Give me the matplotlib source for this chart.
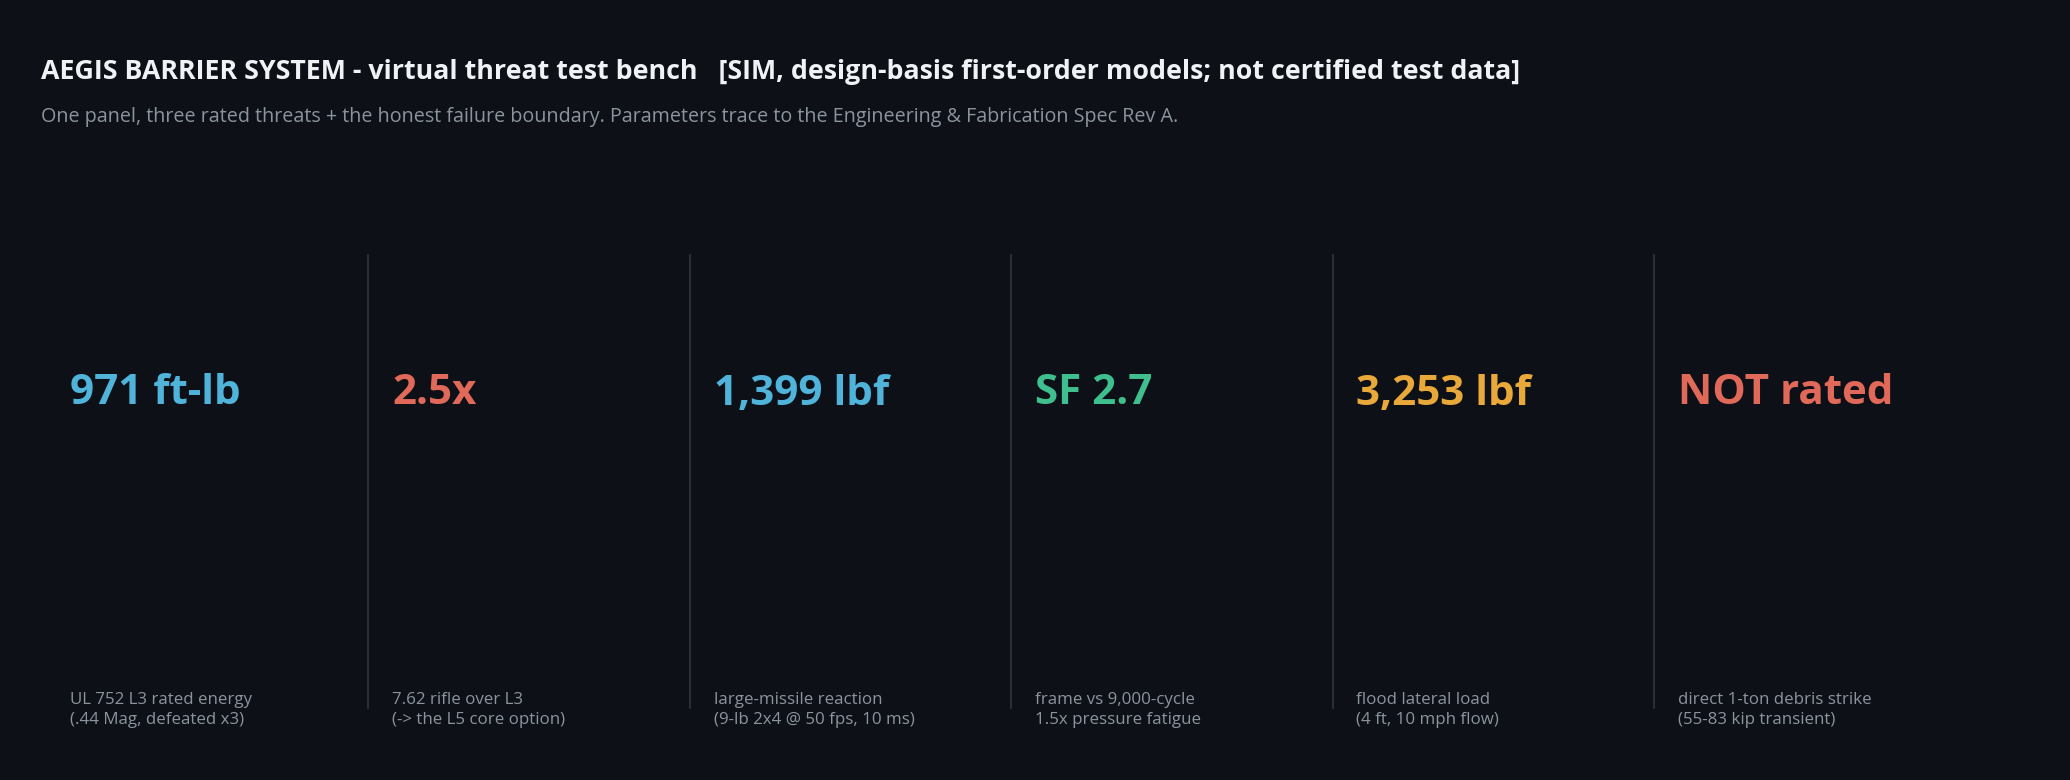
import matplotlib.pyplot as plt

plt.rcParams['font.family'] = ['Open Sans', 'DejaVu Sans']

BG = '#0d1117'

title = 'AEGIS BARRIER SYSTEM - virtual threat test bench   [SIM, design-basis first-order models; not certified test data]'
subtitle = 'One panel, three rated threats + the honest failure boundary. Parameters trace to the Engineering & Fabrication Spec Rev A.'

values = ['971 ft-lb', '2.5x', '1,399 lbf', 'SF 2.7', '3,253 lbf', 'NOT rated']
colors = ['#4fb3da', '#e0695a', '#4fb3da', '#3fbf8d', '#e9a83a', '#e0695a']
notes = [
    'UL 752 L3 rated energy\n(.44 Mag, defeated x3)',
    '7.62 rifle over L3\n(-> the L5 core option)',
    'large-missile reaction\n(9-lb 2x4 @ 50 fps, 10 ms)',
    'frame vs 9,000-cycle\n1.5x pressure fatigue',
    'flood lateral load\n(4 ft, 10 mph flow)',
    'direct 1-ton debris strike\n(55-83 kip transient)',
]

fig = plt.figure(figsize=(20.7, 7.8), dpi=100, facecolor=BG)
ax = fig.add_axes([0, 0, 1, 1])
ax.set_facecolor(BG)
ax.set_xlim(0, 2070)
ax.set_ylim(780, 0)
ax.axis('off')

# header
ax.text(41, 72, title, color='#f0f3f6', fontsize=19.3, fontweight='bold', va='center')
ax.text(41, 117, subtitle, color='#8b949e', fontsize=14.2, va='center')

# panels
x0, w = 46.5, 321.5
for i, (v, c, n) in enumerate(zip(values, colors, notes)):
    left = x0 + i * w
    if i > 0:
        ax.plot([left, left], [255, 708], color='#30363d', lw=1.2)
    ax.text(left + 24, 394, v, color=c, fontsize=30.3, fontweight='bold', va='center')
    ax.text(left + 24, 710, n, color='#8b949e', fontsize=12.2, va='center', linespacing=1.4)

fig.savefig('out.png', dpi=100, facecolor=BG)
